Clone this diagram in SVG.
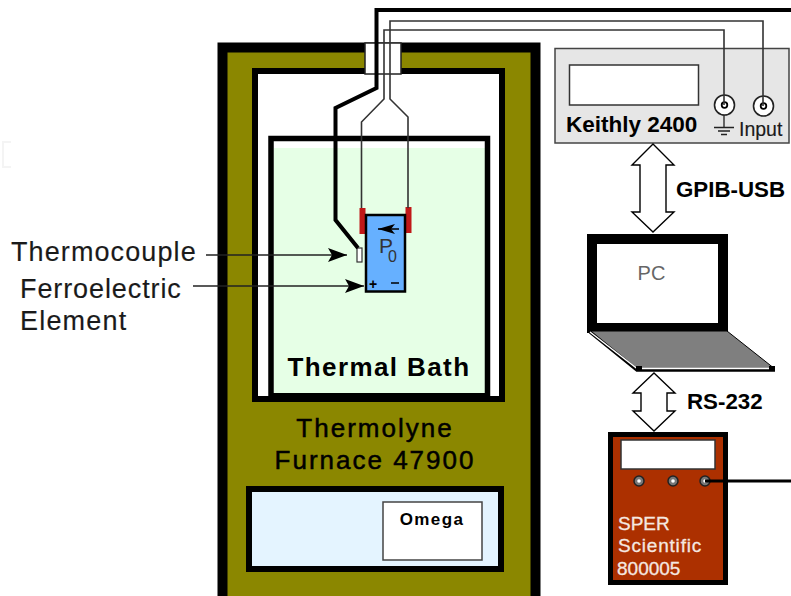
<svg xmlns="http://www.w3.org/2000/svg" width="791" height="596" viewBox="0 0 791 596">
<style>
text{font-family:"Liberation Sans",Arial,sans-serif;fill:#000}
.hv{stroke:#000;stroke-width:0.5}
.lb{fill:#1a1a1a;stroke:#1a1a1a;stroke-width:0.15}
.w{fill:none;stroke:#000;stroke-linejoin:miter}
.t{fill:none;stroke:#333;stroke-width:1.6}
.o{fill:#fff;stroke:#222;stroke-width:1.6}
.wh{fill:#fff;stroke:#000;stroke-width:1.4;stroke-linejoin:miter}
.sp{fill:#f5e8e0;stroke:#f5e8e0;stroke-width:0.3}
</style>
<defs>
<marker id="ah" markerUnits="userSpaceOnUse" markerWidth="20" markerHeight="14" refX="19" refY="7" orient="auto"><path d="M0 0L19 7L0 14L4 7Z" fill="#000"/></marker>
</defs>
<rect width="791" height="596" fill="#fff"/>
<path d="M11 142H3V167H11" fill="none" stroke="#f4f4f4" stroke-width="2"/>
<g id="furnace">
<rect x="222.500" y="47.500" width="313" height="560" fill="#8b8700" stroke="#000" stroke-width="10"/>
<rect x="255" y="71" width="247" height="328" fill="#fff" stroke="#000" stroke-width="6"/>
<rect x="365" y="43" width="36" height="31" fill="#fff" stroke="#222" stroke-width="1.5"/>
<text class="hv" x="375" y="437" font-size="26" text-anchor="middle" letter-spacing="2">Thermolyne</text>
<text class="hv" x="375" y="469" font-size="26" text-anchor="middle" letter-spacing="2">Furnace 47900</text>
</g>
<g id="thermal-bath">
<rect x="274" y="148" width="211" height="246" fill="#e6ffe6"/>
<path d="M271 396V138.500H487.500V396" fill="none" stroke="#000" stroke-width="5.500"/>
<path d="M270 394.500H489" fill="none" stroke="#000" stroke-width="3"/>
<text x="379" y="376" font-size="26" font-weight="bold" text-anchor="middle" letter-spacing="1.400">Thermal Bath</text>
</g>
<g id="omega-panel">
<rect x="249" y="489" width="252" height="80" fill="#e4f4ff" stroke="#000" stroke-width="6"/>
<rect x="383" y="502" width="99" height="58" fill="#fff" stroke="#444" stroke-width="1.5"/>
<text x="432" y="525" font-size="17" font-weight="bold" text-anchor="middle" letter-spacing="1.400">Omega</text>
</g>
<g id="ferroelectric-element">
<rect x="359.500" y="208" width="6" height="26" fill="#c01818"/>
<rect x="405.500" y="207" width="6" height="26" fill="#c01818"/>
<rect x="366" y="215" width="39" height="76.500" fill="#66b0ff" stroke="#000" stroke-width="2.500"/>
<path d="M378 229H399" stroke="#000" stroke-width="1.500"/>
<path d="M378 229L395 224L391 229L395 234Z" fill="#000"/>
<text x="379" y="253" font-size="21" style="fill:#333">P<tspan dx="-5" dy="9" font-size="16">0</tspan></text>
<text x="369" y="289" font-size="14" font-weight="bold">+</text>
<path d="M391 283H399" stroke="#000" stroke-width="1.500"/>
<rect x="357" y="248" width="5" height="14" fill="#fff" stroke="#333" stroke-width="1.200"/>
</g>
<g id="keithley">
<rect x="555" y="48.500" width="234" height="94.500" fill="#e6e6e6" stroke="#444" stroke-width="1.500"/>
<rect x="569.500" y="65" width="129" height="40" fill="#fff" stroke="#333" stroke-width="1.500"/>
<text x="566" y="132" font-size="22.500" font-weight="bold">Keithly 2400</text>
<circle cx="724.500" cy="105" r="10" class="o"/>
<circle cx="724.500" cy="105" r="2.800" fill="#fff" stroke="#000" stroke-width="1.800"/>
<circle cx="763.500" cy="106" r="10" class="o"/>
<circle cx="763.500" cy="106" r="2.800" fill="#fff" stroke="#000" stroke-width="1.800"/>
<path d="M724 115V127M714 127.500H734M718 131H730M721 134.500H727" stroke="#222" stroke-width="1.300" fill="none"/>
<text class="lb" x="739" y="136" font-size="19.500">Input</text>
</g>
<g id="pc">
<rect x="592" y="239" width="131" height="89" fill="#fff" stroke="#000" stroke-width="10"/>
<text x="651.500" y="280" font-size="20" text-anchor="middle" style="fill:#666">PC</text>
<path d="M589 331H727L775 369H637Z" fill="#7f7f7f" stroke="#000" stroke-width="1"/>
<path d="M590 332L637 370H775" fill="none" stroke="#000" stroke-width="3.500"/>
<path d="M590 332L637 368.500H771" fill="none" stroke="#fff" stroke-width="1.400"/>
<rect x="636" y="366" width="6" height="4.500" fill="#000"/>
<rect x="769" y="366" width="6" height="4.500" fill="#000"/>
</g>
<g id="sper">
<rect x="610.500" y="434.500" width="115" height="148" fill="#ac3000" stroke="#000" stroke-width="5"/>
<rect x="621" y="440" width="94" height="29" fill="#fff" stroke="#333" stroke-width="1.500"/>
<circle cx="639" cy="481" r="5" fill="#777" stroke="#222" stroke-width="1.500"/>
<circle cx="639" cy="481" r="1.800" fill="#fff"/>
<circle cx="673" cy="481" r="5" fill="#777" stroke="#222" stroke-width="1.500"/>
<circle cx="673" cy="481" r="1.800" fill="#fff"/>
<circle cx="705" cy="481" r="5" fill="#777" stroke="#222" stroke-width="1.500"/>
<circle cx="705" cy="481" r="1.800" fill="#fff"/>
<text class="sp" x="618" y="530" font-size="19">SPER</text>
<text class="sp" x="618" y="552" font-size="19" letter-spacing="0.800">Scientific</text>
<text class="sp" x="617" y="575" font-size="19">800005</text>
</g>
<g id="connectors">
<path class="w" stroke-width="4" d="M791 10H376.500V88L335.500 108V220L358 248"/>
<path class="t" d="M763 106V21H390V99L408 117V208"/>
<path class="t" d="M724 105V30H384V99L361.500 122V208"/>
<path class="w" stroke-width="3" d="M705 481H791"/>
<path class="wh" d="M653 144L674 165H666V212H674L653 232L632 212H640V165H632Z"/>
<path class="wh" d="M654 373L675 393H667V411H675L654 431L633 411H641V393H633Z"/>
<path d="M206 255H347" stroke="#222" stroke-width="1.400" fill="none" marker-end="url(#ah)"/>
<path d="M193 286H364" stroke="#222" stroke-width="1.400" fill="none" marker-end="url(#ah)"/>
</g>
<g id="labels">
<text class="lb" x="11" y="261" font-size="27" letter-spacing="1.100">Thermocouple</text>
<text class="lb" x="20" y="298" font-size="27" letter-spacing="0.900">Ferroelectric</text>
<text class="lb" x="20" y="330" font-size="27" letter-spacing="1.200">Element</text>
<text x="676" y="197" font-size="22.300" font-weight="bold">GPIB-USB</text>
<text x="687" y="409" font-size="22.300" font-weight="bold">RS-232</text>
</g>
</svg>
